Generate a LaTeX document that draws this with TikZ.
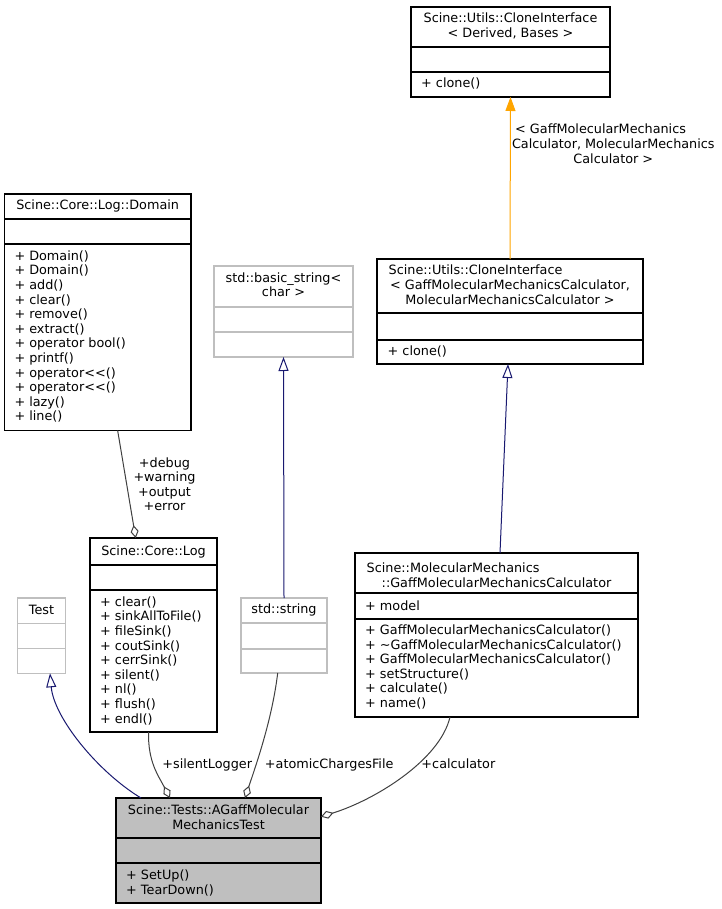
\documentclass[tikz,border=0pt]{standalone}
\usepackage{fontspec}
\setmainfont{DejaVu Sans}
\usetikzlibrary{arrows.meta}
\definecolor{navy}{HTML}{191970}
\definecolor{orng}{HTML}{FFA500}
\definecolor{edgegray}{HTML}{404040}
\definecolor{boxgray}{HTML}{BFBFBF}
\newcommand{\dxfont}{\fontsize{12.8pt}{14.6pt}\selectfont}
\begin{document}
\begin{tikzpicture}[x=1pt,y=-1pt,
  cls/.style={draw=black, line width=1.1pt, fill=white, inner sep=0pt, outer sep=0pt},
  gcls/.style={cls, draw=boxgray},
  sepl/.style={draw=black, line width=1.1pt},
  gsepl/.style={draw=boxgray, line width=1.1pt},
  ttl/.style={anchor=base, inner sep=0pt, font=\dxfont},
  ttlw/.style={anchor=base west, inner sep=0pt, font=\dxfont},
  mem/.style={anchor=base west, inner sep=0pt, font=\dxfont},
  lbl/.style={anchor=base, inner sep=0pt, font=\dxfont},
  inh/.style={draw=navy, line width=1pt, -{Triangle[open, length=14pt, width=10pt, line width=1pt]}},
  agg/.style={draw=edgegray, line width=1pt, -{Diamond[open, length=13pt, width=8pt, line width=1pt]}},
  tmpl/.style={draw=orng, line width=1pt, -{Triangle[length=14pt, width=10pt, fill=orng]}}
]
\path[fill=white, use as bounding box] (0,0) rectangle (721,909);

% CloneInterface<Derived, Bases>
\node[cls, minimum width=199pt, minimum height=90pt] (clone1) at (510.5,52) {};
\draw[sepl] (411,47) -- (610,47);
\draw[sepl] (411,72) -- (610,72);
\node[ttl] at (510.5,22.8) {Scine::Utils::CloneInterface};
\node[ttl] at (510.5,37.3) {< Derived, Bases >};
\node[mem] at (421,87.8) {+ clone()};

% CloneInterface<Gaff...>
\node[cls, minimum width=266pt, minimum height=105pt] (clone2) at (510,311.5) {};
\draw[sepl] (377,313) -- (643,313);
\draw[sepl] (377,340) -- (643,340);
\node[ttlw] at (388.5,274.5) {Scine::Utils::CloneInterface};
\node[ttl] at (510,289.5) {< GaffMolecularMechanicsCalculator,};
\node[ttl] at (510,304.5) {MolecularMechanicsCalculator >};
\node[mem] at (387.5,355.2) {+ clone()};

% Domain
\node[cls, minimum width=186.7pt, minimum height=236.5pt] (dom) at (97.65,312.25) {};
\draw[sepl] (4.3,219) -- (191,219);
\draw[sepl] (4.3,244) -- (191,244);
\node[ttl] at (97.65,209.5) {Scine::Core::Log::Domain};
\foreach \t [count=\i from 0] in {+ Domain(),+ Domain(),+ add(),+ clear(),+ remove(),+ extract(),+ operator bool(),+ printf(),+ operator<{}<(),+ operator<{}<(),+ lazy(),+ line()}
  \node[mem] at (14.3,260.2+14.6*\i) {\t};

% std::basic_string<char>
\node[gcls, minimum width=139pt, minimum height=91pt] (bstr) at (283.5,311.5) {};
\draw[gsepl] (214,307) -- (353,307);
\draw[gsepl] (214,332) -- (353,332);
\node[ttl] at (283.5,282.8) {std::basic\_string<};
\node[ttl] at (283.5,296.8) {char >};

% Log
\node[cls, minimum width=127pt, minimum height=194pt] (log) at (153.5,635) {};
\draw[sepl] (90,565) -- (217,565);
\draw[sepl] (90,590) -- (217,590);
\node[ttl] at (153.5,555.5) {Scine::Core::Log};
\foreach \t [count=\i from 0] in {+ clear(),+ sinkAllToFile(),+ fileSink(),+ coutSink(),+ cerrSink(),+ silent(),+ nl(),+ flush(),+ endl()}
  \node[mem] at (100,606.2+14.6*\i) {\t};

% std::string
\node[gcls, minimum width=86pt, minimum height=75pt] (str) at (284,635.5) {};
\draw[gsepl] (241,623) -- (327,623);
\draw[gsepl] (241,649) -- (327,649);
\node[ttl] at (284,613.8) {std::string};

% Test
\node[gcls, minimum width=48.4pt, minimum height=75.3pt] (test) at (41.5,635.65) {};
\draw[gsepl] (17.3,623.3) -- (65.7,623.3);
\draw[gsepl] (17.3,648.7) -- (65.7,648.7);
\node[ttl] at (41.5,614.3) {Test};

% GaffMolecularMechanicsCalculator
\node[cls, minimum width=283pt, minimum height=164pt] (gaff) at (496.5,635) {};
\draw[sepl] (355,593) -- (638,593);
\draw[sepl] (355,619) -- (638,619);
\node[ttlw] at (366.5,572.5) {Scine::MolecularMechanics};
\node[ttl] at (496.5,587) {::GaffMolecularMechanicsCalculator};
\node[mem] at (365,610.5) {+ model};
\foreach \t [count=\i from 0] in {+ GaffMolecularMechanicsCalculator(),+ \textasciitilde GaffMolecularMechanicsCalculator(),+ GaffMolecularMechanicsCalculator(),+ setStructure(),+ calculate(),+ name()}
  \node[mem] at (365,634.5+14.6*\i) {\t};

% AGaffMolecularMechanicsTest
\node[cls, fill=boxgray, minimum width=205pt, minimum height=105pt] (agaff) at (218.5,850.5) {};
\draw[sepl] (116,838) -- (321,838);
\draw[sepl] (116,863) -- (321,863);
\node[ttl] at (218.5,814.5) {Scine::Tests::AGaffMolecular};
\node[ttl] at (218.5,829) {MechanicsTest};
\node[mem] at (126,879.5) {+ SetUp()};
\node[mem] at (126,894) {+ TearDown()};

% connectors
\draw[tmpl] (clone2.north) -- (clone1.south);
\draw[inh] ([xshift=3.5pt]gaff.north) -- ([xshift=-2pt]clone2.south);
\draw[inh] (str.north) -- (bstr.south);
\draw[inh] ([xshift=-77.5pt]agaff.north) .. controls (98,772) and (54,718) .. ([xshift=8.5pt]test.south);
\draw[agg] ([xshift=20pt]dom.south) -- ([xshift=-17.8pt]log.north);
\draw[agg] ([xshift=-5pt]log.south) .. controls (148,762) and (158,775) .. ([xshift=-48.5pt]agaff.north);
\draw[agg] ([xshift=-6.3pt]str.south) .. controls (272,720) and (256,765) .. ([xshift=26.5pt]agaff.north);
\draw[agg] ([xshift=-46.5pt]gaff.south) .. controls (440,760) and (375,800) .. ([yshift=33.8pt]agaff.east);

% labels
\node[ttlw] (tl1) at (515,133.8) {< GaffMolecularMechanics};
\node[lbl] (tl2) at (613.3,148.5) {Calculator, MolecularMechanics};
\node[lbl] (tl3) at (613.3,163.2) {Calculator >};
\node[lbl] (dl1) at (164.5,467.2) {+debug};
\node[lbl] (dl2) at (164.5,481.7) {+warning};
\node[lbl] (dl3) at (164.5,496.2) {+output};
\node[lbl] (dl4) at (164.5,510.7) {+error};
\node[lbl] (sl) at (207.2,768.8) {+silentLogger};
\node[lbl] (al) at (329.2,768.8) {+atomicChargesFile};
\node[lbl] (cl) at (458.4,768.8) {+calculator};
\end{tikzpicture}
\end{document}
